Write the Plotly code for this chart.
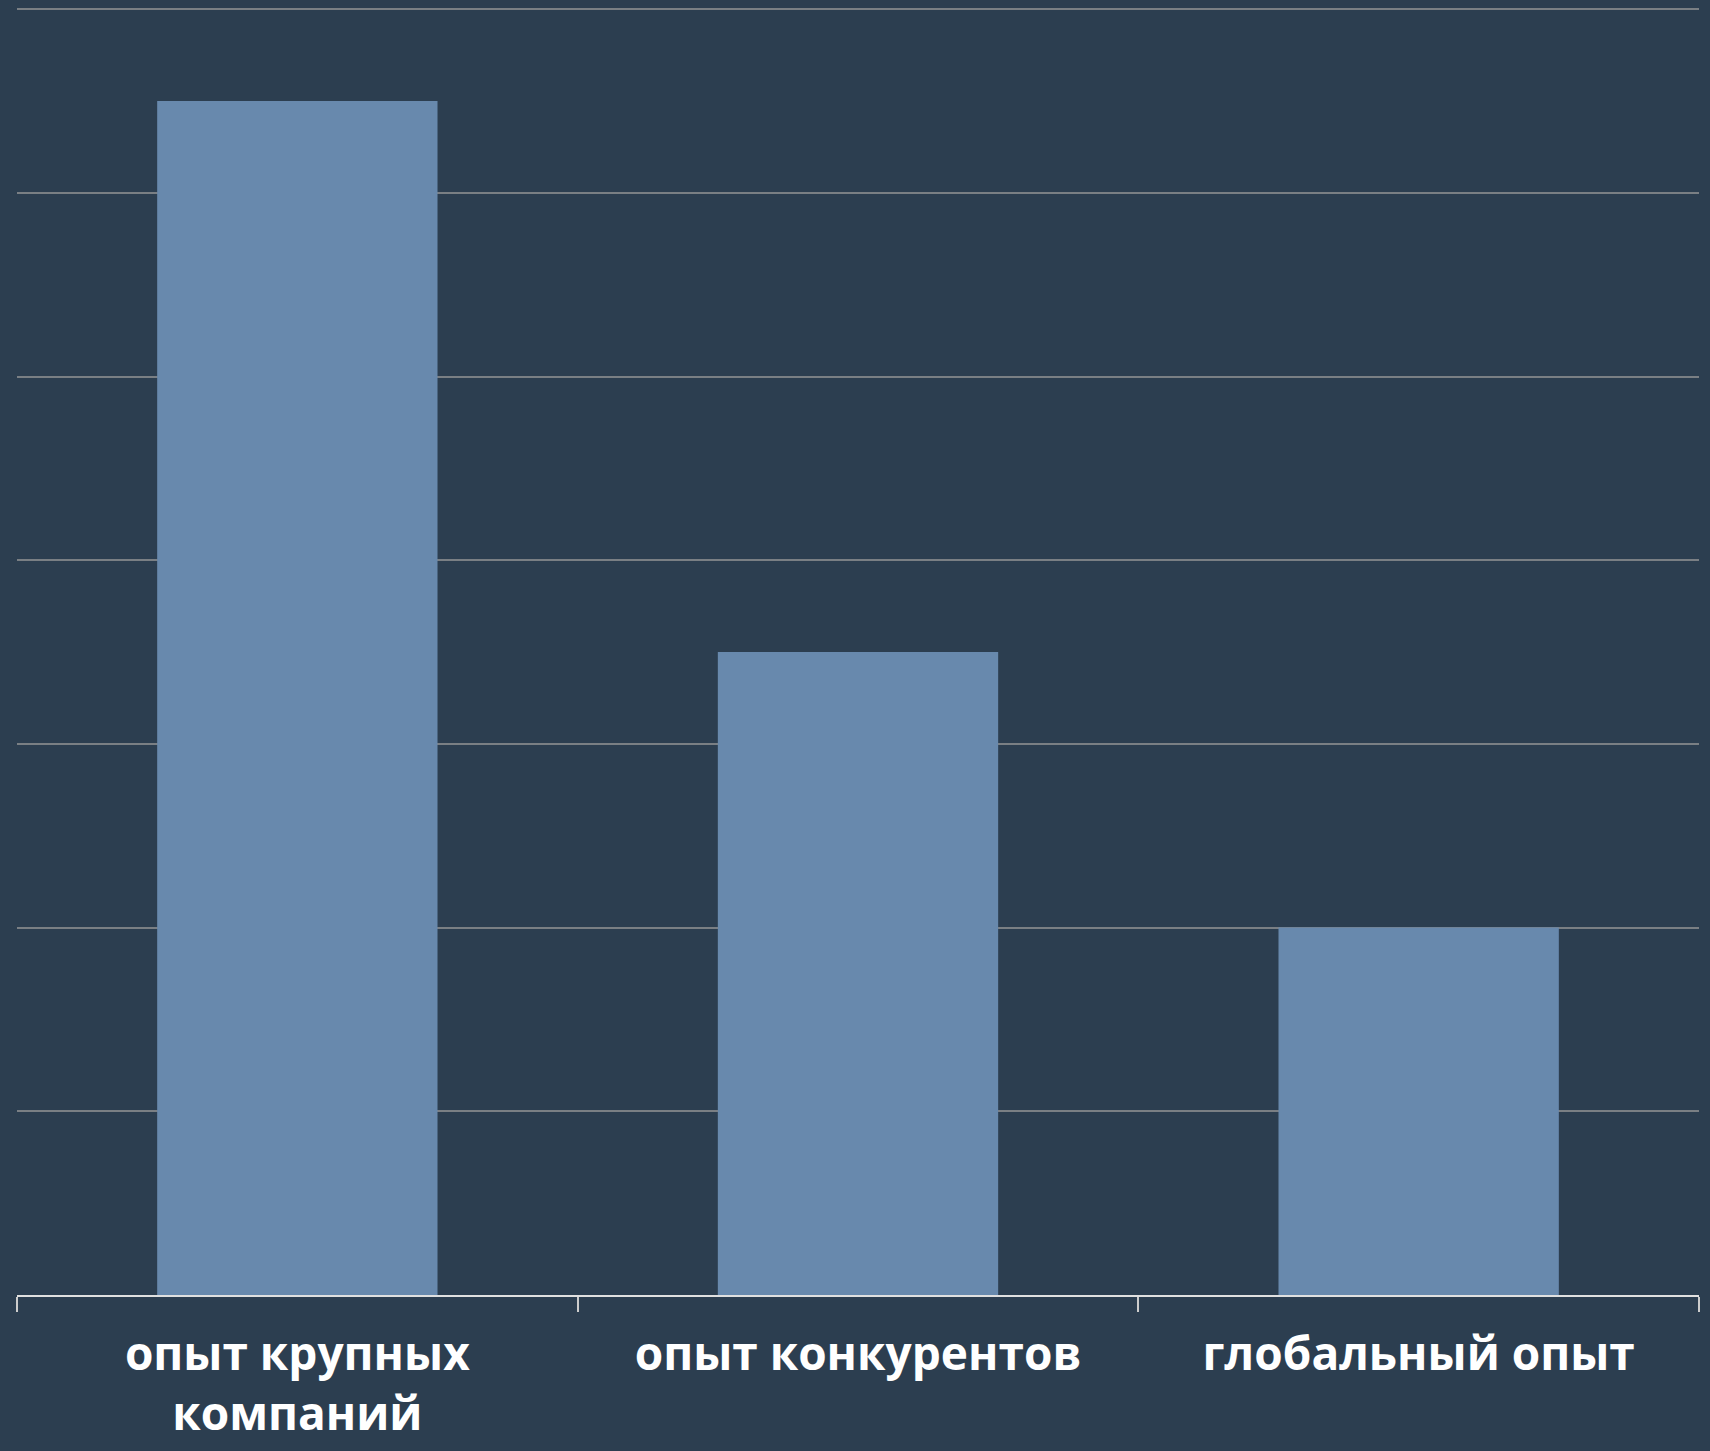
import plotly.graph_objects as go

categories = ["опыт крупных<br>компаний", "опыт конкурентов", "глобальный опыт"]
values = [6.5, 3.5, 2.0]

fig = go.Figure(go.Bar(x=categories, y=values, marker=dict(color="#6889AD", line=dict(width=0))))

fig.update_layout(
    width=1710, height=1451,
    paper_bgcolor="#2C3E50", plot_bgcolor="#2C3E50",
    margin=dict(l=17, r=11, t=8, b=156),
    bargap=0.5, showlegend=False,
)
fig.update_xaxes(
    tickson="boundaries", ticks="outside", ticklen=15, tickwidth=2, tickcolor="#CCCCCC",
    showline=True, linecolor="#E0E0E0", linewidth=2, showgrid=False,
    tickfont=dict(family="Open Sans", size=46, color="white", weight=700),
    ticklabelstandoff=18, automargin=False,
)
fig.update_yaxes(
    range=[0, 7.006], dtick=1, showticklabels=False, showgrid=True,
    gridcolor="#7A7F84", gridwidth=2, zeroline=False,
)
fig.write_html("out.html")
